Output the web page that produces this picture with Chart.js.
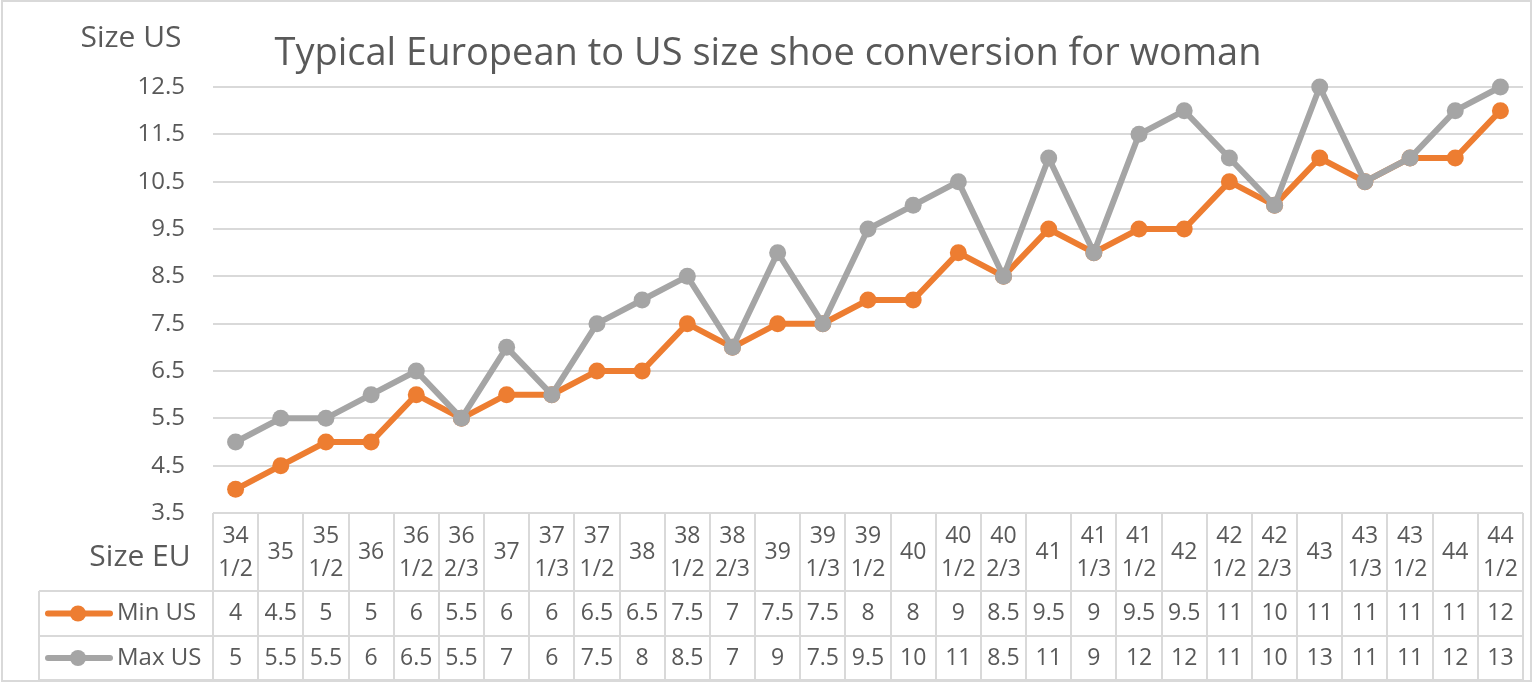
<!DOCTYPE html>
<html lang="en">
<head>
  <meta charset="UTF-8">
  <title>European to US shoe size conversion</title>
  <script src="https://cdn.jsdelivr.net/npm/chart.js"></script>
  <style>
    html, body { margin: 0; padding: 0; background: #fff; }
    canvas { display: block; }
  </style>
</head>
<body>
  <canvas id="sizeChart" width="1536" height="682"></canvas>

  <script>
    // EU sizes (x categories)
    const categories = ['34 1/2', '35', '35 1/2', '36', '36 1/2', '36 2/3', '37', '37 1/3', '37 1/2', '38',
      '38 1/2', '38 2/3', '39', '39 1/3', '39 1/2', '40', '40 1/2', '40 2/3', '41', '41 1/3',
      '41 1/2', '42', '42 1/2', '42 2/3', '43', '43 1/3', '43 1/2', '44', '44 1/2'];

    // plotted US sizes
    const minUS = [4, 4.5, 5, 5, 6, 5.5, 6, 6, 6.5, 6.5, 7.5, 7, 7.5, 7.5, 8, 8, 9, 8.5, 9.5, 9,
      9.5, 9.5, 10.5, 10, 11, 10.5, 11, 11, 12];
    const maxUS = [5, 5.5, 5.5, 6, 6.5, 5.5, 7, 6, 7.5, 8, 8.5, 7, 9, 7.5, 9.5, 10, 10.5, 8.5, 11, 9,
      11.5, 12, 11, 10, 12.5, 10.5, 11, 12, 12.5];

    // values as shown in the data table (narrow columns round them)
    const minLabels = ['4', '4.5', '5', '5', '6', '5.5', '6', '6', '6.5', '6.5', '7.5', '7', '7.5', '7.5', '8', '8',
      '9', '8.5', '9.5', '9', '9.5', '9.5', '11', '10', '11', '11', '11', '11', '12'];
    const maxLabels = ['5', '5.5', '5.5', '6', '6.5', '5.5', '7', '6', '7.5', '8', '8.5', '7', '9', '7.5', '9.5', '10',
      '11', '8.5', '11', '9', '12', '12', '11', '10', '13', '11', '11', '12', '13'];

    const yTicks = [3.5, 4.5, 5.5, 6.5, 7.5, 8.5, 9.5, 10.5, 11.5, 12.5];

    const ORANGE = '#ED7D31';
    const GREY = '#A5A5A5';
    const TEXT = '#595959';
    const LINE = '#D9D9D9';
    const FONT = '"Open Sans", sans-serif';

    // data table under the plot + titles + frame
    const tablePlugin = {
      id: 'dataTable',
      afterDraw(chart) {
        const { ctx, chartArea: a } = chart;
        const colW = (a.right - a.left) / categories.length;
        const rowTop = a.bottom, row1 = 591, row2 = 636, bottom = 680, keyLeft = 39;

        ctx.save();
        ctx.strokeStyle = LINE;
        ctx.lineWidth = 2;
        ctx.beginPath();
        for (let i = 0; i <= categories.length; i++) {
          const x = Math.round(a.left + i * colW);
          ctx.moveTo(x, rowTop);
          ctx.lineTo(x, bottom);
        }
        ctx.moveTo(keyLeft, row1); ctx.lineTo(a.right, row1);
        ctx.moveTo(keyLeft, row2); ctx.lineTo(a.right, row2);
        ctx.moveTo(keyLeft, bottom); ctx.lineTo(a.right, bottom);
        ctx.moveTo(keyLeft, row1); ctx.lineTo(keyLeft, bottom);
        ctx.stroke();

        // outer frame
        ctx.strokeRect(2, 1, 1529, 680);

        ctx.fillStyle = TEXT;
        ctx.textAlign = 'center';
        ctx.textBaseline = 'middle';
        ctx.font = '23px ' + FONT;
        categories.forEach((c, i) => {
          const cx = a.left + (i + 0.5) * colW;
          const parts = c.split(' ');
          if (parts.length > 1) {
            ctx.fillText(parts[0], cx, 536);
            ctx.fillText(parts[1], cx, 569);
          } else {
            ctx.fillText(c, cx, 552);
          }
          ctx.fillText(minLabels[i], cx, (row1 + row2) / 2);
          ctx.fillText(maxLabels[i], cx, (row2 + bottom) / 2);
        });

        // legend keys
        [[ORANGE, 'Min US', (row1 + row2) / 2], [GREY, 'Max US', (row2 + bottom) / 2]].forEach(([col, name, y]) => {
          ctx.strokeStyle = col;
          ctx.lineWidth = 6;
          ctx.lineCap = 'round';
          ctx.beginPath();
          ctx.moveTo(48, y); ctx.lineTo(110, y);
          ctx.stroke();
          ctx.fillStyle = col;
          ctx.beginPath();
          ctx.arc(78, y, 8, 0, Math.PI * 2);
          ctx.fill();
          ctx.fillStyle = TEXT;
          ctx.textAlign = 'left';
          ctx.font = '24px ' + FONT;
          ctx.fillText(name, 117, y);
        });

        ctx.textAlign = 'center';
        ctx.font = '30px ' + FONT;
        ctx.fillText('Size EU', 140, 557);
        ctx.fillText('Size US', 131, 38);
        ctx.font = '38px ' + FONT;
        ctx.fillText('Typical European to US size shoe conversion for woman', 768, 54);
        ctx.restore();
      }
    };

    new Chart(document.getElementById('sizeChart'), {
      type: 'line',
      data: {
        labels: categories,
        datasets: [
          {
            label: 'Min US',
            data: minUS,
            borderColor: ORANGE,
            backgroundColor: ORANGE,
            order: 2
          },
          {
            label: 'Max US',
            data: maxUS,
            borderColor: GREY,
            backgroundColor: GREY,
            order: 1
          }
        ]
      },
      options: {
        responsive: false,
        animation: false,
        layout: { padding: { top: 87, right: 13, bottom: 169, left: 0 } },
        elements: {
          line: { borderWidth: 6, tension: 0 },
          point: { radius: 8.5, borderWidth: 0, hoverRadius: 8.5 }
        },
        datasets: { line: { clip: false } },
        plugins: {
          legend: { display: false },
          tooltip: { enabled: false }
        },
        scales: {
          x: {
            display: false,
            offset: true
          },
          y: {
            min: 3.5,
            max: 12.5,
            afterBuildTicks(scale) {
              scale.ticks = yTicks.map(v => ({ value: v }));
            },
            afterFit(scale) { scale.width = 213; },
            border: { display: false },
            grid: { color: LINE, lineWidth: 2, drawTicks: false },
            ticks: {
              color: TEXT,
              padding: 28,
              font: { family: '"Open Sans", sans-serif', size: 24 },
              callback: v => v.toFixed(1)
            }
          }
        }
      },
      plugins: [tablePlugin]
    });
  </script>
</body>
</html>
